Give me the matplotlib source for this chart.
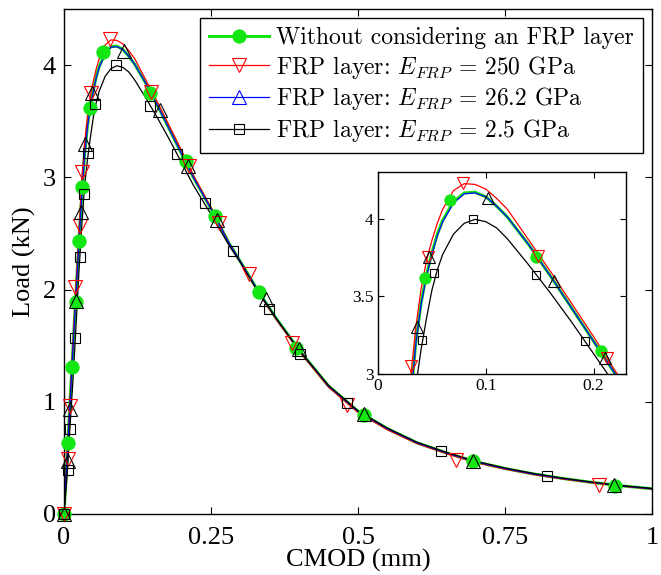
import numpy as np
import matplotlib
matplotlib.use("Agg")
import matplotlib.pyplot as plt
from matplotlib.lines import Line2D

plt.rcParams['font.family'] = ['Liberation Serif', 'DejaVu Serif']
plt.rcParams['mathtext.fontset'] = 'cm'
plt.rcParams['axes.unicode_minus'] = False

# ---------------- data ----------------
cmod = [0, 0.005, 0.01, 0.015, 0.02, 0.025, 0.03, 0.035, 0.04, 0.045, 0.05, 0.055,
        0.06, 0.07, 0.08, 0.09, 0.1, 0.11, 0.12, 0.14, 0.16, 0.18, 0.2, 0.22, 0.25,
        0.28, 0.3, 0.33, 0.36, 0.4, 0.45, 0.5, 0.55, 0.6, 0.65, 0.7, 0.75, 0.8,
        0.85, 0.9, 0.95, 1.0]

load_nofrp = [0, 0.48, 0.98, 1.46, 1.93, 2.40, 2.82, 3.20, 3.46, 3.64, 3.78, 3.90,
              3.99, 4.11, 4.165, 4.17, 4.14, 4.08, 4.01, 3.83, 3.63, 3.42, 3.21, 3.00, 2.72,
              2.42, 2.25, 1.99, 1.75, 1.46, 1.14, 0.915, 0.76, 0.635, 0.545, 0.465, 0.405, 0.355,
              0.315, 0.28, 0.25, 0.225]

load_250 = [0, 0.49, 0.99, 1.50, 2.00, 2.46, 2.96, 3.30, 3.55, 3.73, 3.86, 3.97,
            4.06, 4.18, 4.225, 4.22, 4.19, 4.13, 4.06, 3.86, 3.66, 3.45, 3.24, 3.02, 2.73,
            2.42, 2.25, 1.98, 1.74, 1.45, 1.13, 0.905, 0.75, 0.628, 0.538, 0.458, 0.40, 0.35,
            0.31, 0.276, 0.247, 0.222]

load_26 = [0, 0.47, 0.96, 1.45, 1.92, 2.38, 2.81, 3.19, 3.45, 3.63, 3.77, 3.89,
           3.98, 4.10, 4.16, 4.165, 4.14, 4.08, 4.01, 3.83, 3.63, 3.42, 3.21, 3.00, 2.72,
           2.42, 2.25, 1.99, 1.75, 1.46, 1.14, 0.915, 0.76, 0.635, 0.545, 0.465, 0.405, 0.355,
           0.315, 0.28, 0.25, 0.225]

load_2_5 = [0, 0.32, 0.76, 1.17, 1.63, 2.12, 2.55, 2.92, 3.16, 3.36, 3.54, 3.67,
            3.77, 3.90, 3.97, 3.995, 3.98, 3.94, 3.87, 3.70, 3.52, 3.33, 3.13, 2.93, 2.67,
            2.40, 2.24, 1.98, 1.75, 1.46, 1.145, 0.92, 0.765, 0.64, 0.55, 0.47, 0.41, 0.36,
            0.318, 0.283, 0.252, 0.228]

# marker positions
mk_nofrp_x = [0, 0.006, 0.013, 0.02, 0.025, 0.031, 0.044, 0.067, 0.147, 0.207, 0.257, 0.332, 0.394, 0.511, 0.696, 0.937]
mk_nofrp_y = [0, 0.63, 1.31, 1.89, 2.43, 2.91, 3.62, 4.12, 3.75, 3.15, 2.66, 1.98, 1.48, 0.88, 0.47, 0.25]

mk_250_x = [0, 0.006, 0.010, 0.019, 0.027, 0.031, 0.046, 0.079, 0.148, 0.212, 0.263, 0.314, 0.387, 0.482, 0.667, 0.910]
mk_250_y = [0, 0.49, 0.96, 2.02, 2.57, 3.05, 3.75, 4.23, 3.76, 3.10, 2.59, 2.14, 1.52, 0.97, 0.48, 0.26]

mk_26_x = [0, 0.006, 0.010, 0.020, 0.029, 0.036, 0.0475, 0.102, 0.163, 0.211, 0.261, 0.343, 0.399, 0.510, 0.696, 0.935]
mk_26_y = [0, 0.47, 0.94, 1.90, 2.69, 3.30, 3.755, 4.13, 3.60, 3.10, 2.62, 1.92, 1.47, 0.89, 0.47, 0.26]

mk_2_5_x = [0, 0.006, 0.010, 0.019, 0.027, 0.034, 0.0406, 0.052, 0.088, 0.147, 0.192, 0.239, 0.287, 0.348, 0.402, 0.482, 0.642, 0.822]
mk_2_5_y = [0, 0.39, 0.76, 1.57, 2.29, 2.85, 3.22, 3.65, 4.00, 3.64, 3.21, 2.77, 2.34, 1.83, 1.43, 0.99, 0.56, 0.34]

labels = ['Without considering an FRP layer',
          r'FRP layer: $E_{FRP}$ = 250 GPa',
          r'FRP layer: $E_{FRP}$ = 26.2 GPa',
          r'FRP layer: $E_{FRP}$ = 2.5 GPa']

main_xticks = [0, 0.25, 0.5, 0.75, 1]
main_xticklabels = ['0', '0.25', '0.5', '0.75', '1']
main_yticks = [0, 1, 2, 3, 4]
main_yticklabels = ['0', '1', '2', '3', '4']
inset_xticks = [0, 0.1, 0.2]
inset_xticklabels = ['0', '0.1', '0.2']
inset_yticks = [3, 3.5, 4]
inset_yticklabels = ['3', '3.5', '4']

GREEN = '#14e614'
RED = '#ff0000'
BLUE = '#0000ff'
BLACK = '#000000'

series = [
    dict(y=load_nofrp, mx=mk_nofrp_x, my=mk_nofrp_y, color=GREEN, lw=2.2, marker='o',
         mfc=GREEN, mec=GREEN, ms=9.5, legmfc=GREEN, legmec=GREEN, legms=9.5),
    dict(y=load_250, mx=mk_250_x, my=mk_250_y, color=RED, lw=0.9, marker='v',
         mfc='none', mec=RED, ms=9.5, legmfc='none', legmec=RED, legms=9.5),
    dict(y=load_26, mx=mk_26_x, my=mk_26_y, color=BLUE, lw=0.9, marker='^',
         mfc='none', mec=BLACK, ms=9.5, legmfc='none', legmec=BLUE, legms=9.5),
    dict(y=load_2_5, mx=mk_2_5_x, my=mk_2_5_y, color=BLACK, lw=0.9, marker='s',
         mfc='none', mec=BLACK, ms=7.0, legmfc='none', legmec=BLACK, legms=7.0),
]

fig = plt.figure(figsize=(6.61, 5.75), dpi=100)
ax = fig.add_axes([0.0968, 0.1061, 0.8896, 0.8782])


def draw(a, xlim, ylim, scale=1.0):
    for s in series:
        a.plot(cmod, s['y'], color=s['color'], lw=s['lw'], zorder=2)
    for s in series:
        mx = np.asarray(s['mx']); my = np.asarray(s['my'])
        m = (mx >= xlim[0]) & (mx <= xlim[1]) & (my >= ylim[0]) & (my <= ylim[1])
        a.plot(mx[m], my[m], ls='none', marker=s['marker'], ms=s['ms'] * scale,
               mfc=s['mfc'], mec=s['mec'], mew=0.8, clip_on=False, zorder=3)
    a.set_xlim(*xlim)
    a.set_ylim(*ylim)
    a.tick_params(direction='in', top=True, right=True, width=0.8)
    for sp in a.spines.values():
        sp.set_linewidth(1.0)


draw(ax, (0, 1), (0, 4.5))
ax.set_xticks(main_xticks)
ax.set_xticklabels(main_xticklabels)
ax.set_yticks(main_yticks)
ax.set_yticklabels(main_yticklabels)
ax.tick_params(labelsize=19, length=5)
ax.tick_params(axis='x', pad=9.5)
ax.tick_params(axis='y', pad=6)
ax.set_xlabel('CMOD (mm)', fontsize=19, labelpad=0)
ax.set_ylabel('Load (kN)', fontsize=19, labelpad=4.5)

handles = [Line2D([], [], color=s['color'], lw=s['lw'], marker=s['marker'],
                  mfc=s['legmfc'], mec=s['legmec'], ms=s['legms'], mew=0.8)
           for s in series]
leg = ax.legend(handles, labels, loc='upper right', bbox_to_anchor=(0.9728, 0.969),
                bbox_transform=fig.transFigure, prop={'family': 'cmr10', 'size': 17},
                frameon=True, fancybox=False, edgecolor='black', framealpha=1,
                handlelength=2.55, handletextpad=0.3, labelspacing=0.2, borderpad=0.38,
                borderaxespad=0.0)
leg.get_frame().set_linewidth(1.0)

axin = fig.add_axes([0.5719, 0.3496, 0.3751, 0.3513])
draw(axin, (0, 0.23), (3, 4.3), scale=0.85)
axin.set_xticks(inset_xticks)
axin.set_xticklabels(inset_xticklabels)
axin.set_yticks(inset_yticks)
axin.set_yticklabels(inset_yticklabels)
axin.tick_params(labelsize=12.5, length=4, pad=3)

fig.savefig('out.png', dpi=100)
